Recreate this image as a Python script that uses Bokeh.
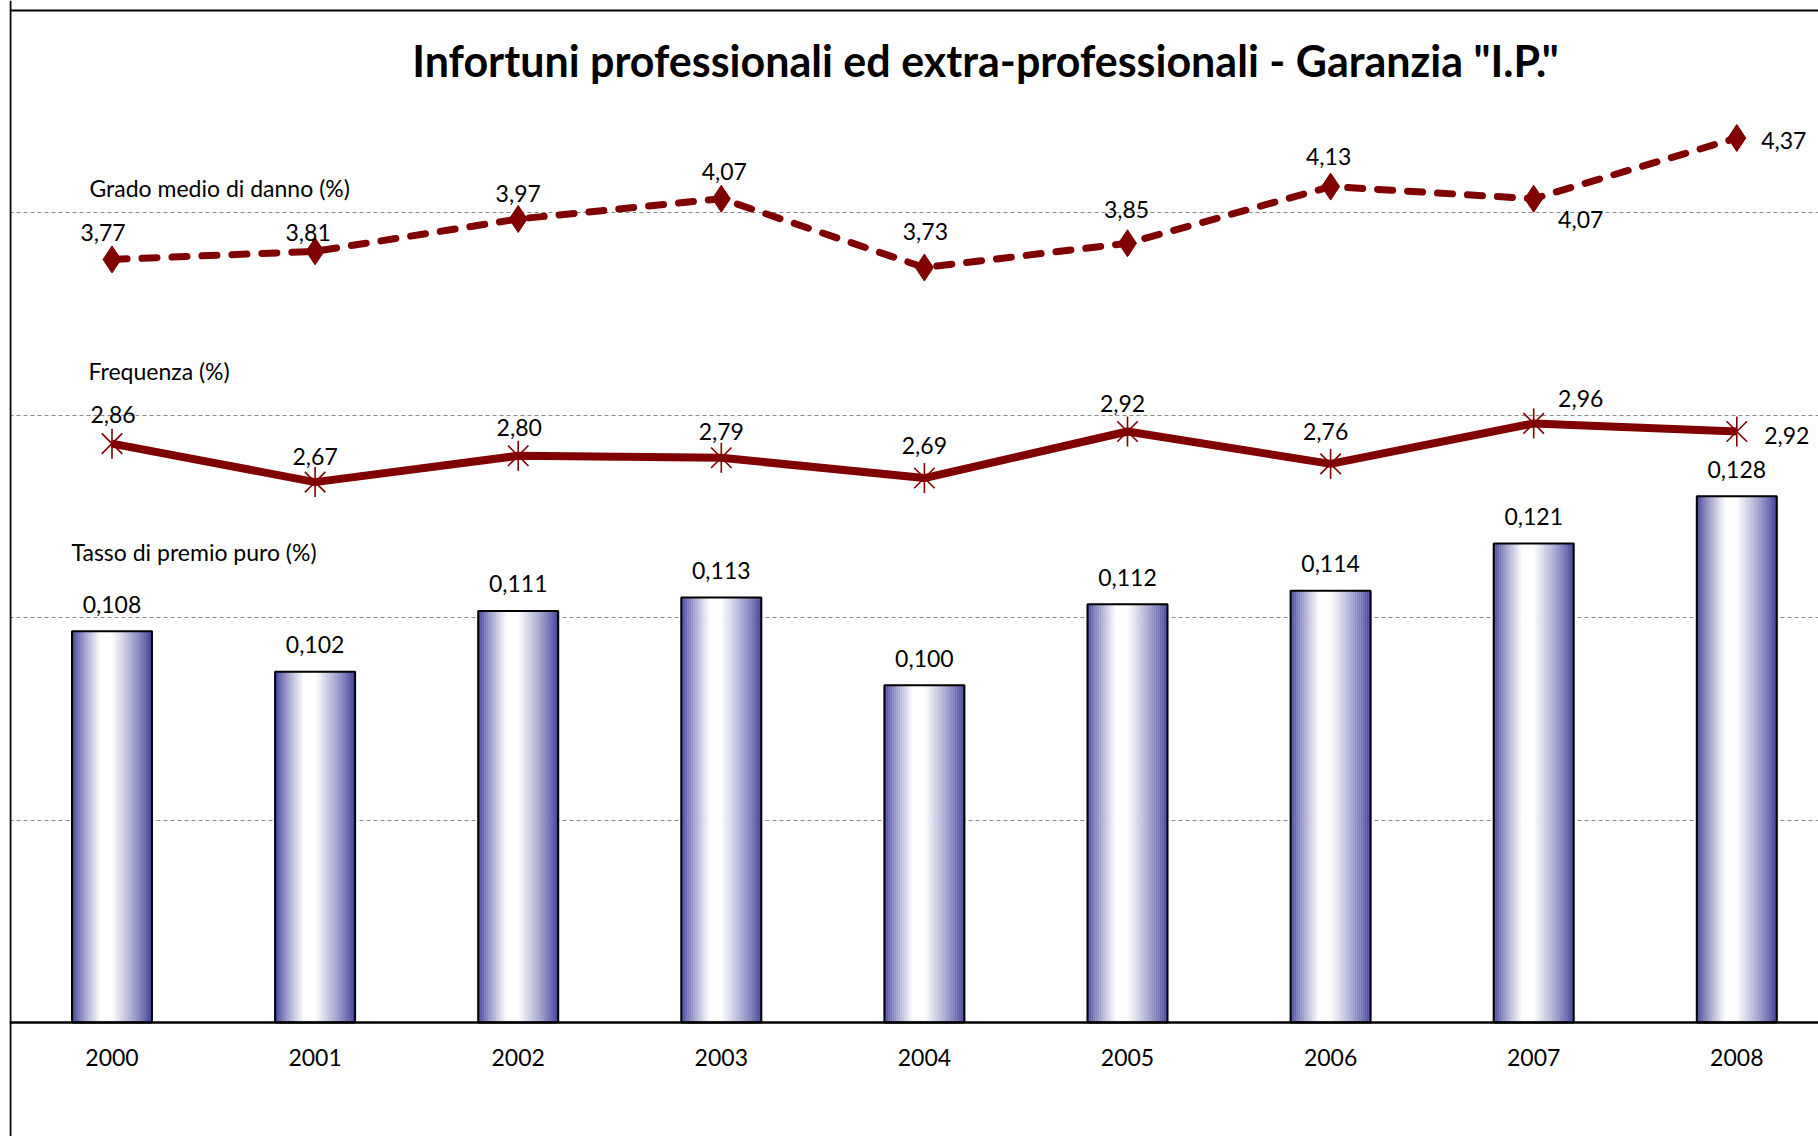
import numpy as np
from bokeh.plotting import figure
from bokeh.models import ColumnDataSource, Range1d, FixedTicker, Span, Label
from bokeh.core.properties import value
from bokeh.embed import file_html
from bokeh.resources import INLINE

# ---------------- data ----------------
years = ["2000", "2001", "2002", "2003", "2004", "2005", "2006", "2007", "2008"]
grado = [3.77, 3.81, 3.97, 4.07, 3.73, 3.85, 4.13, 4.07, 4.37]
frequenza = [2.86, 2.67, 2.80, 2.79, 2.69, 2.92, 2.76, 2.96, 2.92]
tasso = [0.108, 0.102, 0.111, 0.113, 0.100, 0.112, 0.114, 0.121, 0.128]
series_names = ["Grado medio di danno (%)", "Frequenza (%)", "Tasso di premio puro (%)"]
title_text = 'Infortuni professionali ed extra-professionali - Garanzia "I.P."'

# label placement (screen px offsets, styling only)
grado_off = [(-9, -27), (-7, -19), (0, -25), (3, -27), (1, -36), (-1, -34), (-2, -30), (47, 21), (47, 2)]
freq_off = [(1, -29), (0, -26), (1, -28), (0, -26), (0, -33), (-5, -28), (-5, -32), (47, -25), (50, 4)]

FONT = "Lato"
RED = "#800000"

def fmt(v, d):
    return f"{v:.{d}f}".replace(".", ",")

# ---------------- geometry ----------------
W, H = 1818, 1136
left_pad = 9
plot_top = 10
axis_y = 1022
ppu = (axis_y - plot_top) / 5.0
y_start = -(H - axis_y) / ppu
y_end = 5 + plot_top / ppu

cat_w = 203.1
first_center = 111.5 - left_pad
x_start = -first_center / cat_w
x_end = (W - left_pad - first_center) / cat_w

bmin, bmax = 0.05, 0.20
bppu = (axis_y - plot_top) / (bmax - bmin)
b_start = bmin - (H - axis_y) / bppu
b_end = bmax + plot_top / bppu

idx = list(range(len(years)))

p = figure(width=W, height=H, x_range=Range1d(x_start, x_end), y_range=Range1d(y_start, y_end),
           output_backend="svg", toolbar_location=None, min_border=0,
           x_axis_location=None, y_axis_location=None)
p.min_border_left = left_pad
p.min_border_right = 0
p.min_border_top = 0
p.min_border_bottom = 0
p.outline_line_color = None
p.background_fill_color = "white"
p.border_fill_color = "white"
p.extra_y_ranges = {"bar": Range1d(b_start, b_end)}

p.xgrid.visible = False
p.ygrid.ticker = FixedTicker(ticks=[1, 2, 3, 4])
p.ygrid.grid_line_color = "#8a8a8a"
p.ygrid.grid_line_dash = "4 3"
p.ygrid.grid_line_width = 1.2

# ---------------- bars with horizontal gradient ----------------
bw = 0.394
N = 40
dark = np.array([58, 58, 150])
white = np.array([255, 255, 255])
gx, gt, gc = [], [], []
for k in range(N):
    t = (k + 0.5) / N
    if t < 0.36:
        w = t / 0.36
    elif t < 0.5:
        w = 1.0
    else:
        w = (1 - t) / 0.5
    w = w ** 0.8
    c = dark + (white - dark) * w
    col = "#%02x%02x%02x" % tuple(int(round(v)) for v in c)
    for i, v in enumerate(tasso):
        gx.append(i - bw / 2 + t * bw)
        gt.append(v)
        gc.append(col)
p.vbar(x=gx, top=gt, bottom=bmin, width=bw / N * 1.15, fill_color=gc, line_color=None, y_range_name="bar")
p.vbar(x=idx, top=tasso, bottom=bmin, width=bw, fill_color=None, line_color="black", line_width=2,
       y_range_name="bar")

# frame lines
p.add_layout(Span(location=0, dimension="width", line_color="black", line_width=2.5))
p.add_layout(Span(location=5, dimension="width", line_color="black", line_width=2))
p.add_layout(Span(location=-0.5, dimension="height", line_color="black", line_width=2))

# ---------------- lines ----------------
p.line(idx, frequenza, line_color=RED, line_width=8)
p.scatter(idx, frequenza, marker="x", size=29, line_color=RED, line_width=1.6)
p.scatter(idx, frequenza, marker="dash", angle=np.pi / 2, size=30, line_color=RED, line_width=1.6)

p.line(idx, grado, line_color=RED, line_width=7, line_dash="15 15", line_cap="round")
p.scatter(idx, grado, marker="diamond", size=27, fill_color=RED, line_color=RED)

# ---------------- data labels ----------------
src_g = ColumnDataSource(dict(x=idx, y=grado, t=[fmt(v, 2) for v in grado],
                              dx=[o[0] for o in grado_off], dy=[o[1] for o in grado_off]))
p.text(x="x", y="y", text="t", x_offset="dx", y_offset="dy", source=src_g,
       text_font=value(FONT), text_font_size="23px", text_align="center", text_baseline="middle",
       text_color="black")
src_f = ColumnDataSource(dict(x=idx, y=frequenza, t=[fmt(v, 2) for v in frequenza],
                              dx=[o[0] for o in freq_off], dy=[o[1] for o in freq_off]))
p.text(x="x", y="y", text="t", x_offset="dx", y_offset="dy", source=src_f,
       text_font=value(FONT), text_font_size="23px", text_align="center", text_baseline="middle",
       text_color="black")
p.text(x=idx, y=tasso, text=[fmt(v, 3) for v in tasso], y_offset=-27, y_range_name="bar",
       text_font=value(FONT), text_font_size="23px", text_align="center", text_baseline="middle",
       text_color="black")

# year labels under the axis
p.text(x=idx, y=[0] * len(idx), text=years, y_offset=35,
       text_font=value(FONT), text_font_size="23px", text_align="center", text_baseline="middle",
       text_color="black")

# series names (frame-relative screen units)
for name, (sx, sy) in zip(series_names, [(89 - left_pad, 949), (88 - left_pad, 766), (71 - left_pad, 585)]):
    p.add_layout(Label(x=sx, y=sy, x_units="screen", y_units="screen", text=name,
                       text_font=FONT, text_font_size="23px", text_baseline="middle", text_color="black"))

# title
p.add_layout(Label(x=985 - left_pad, y=1076, x_units="screen", y_units="screen", text=title_text,
                   text_font=FONT, text_font_size="43px", text_font_style="bold",
                   text_align="center", text_baseline="middle", text_color="black"))

open("out.html", "w").write(file_html(p, INLINE))
